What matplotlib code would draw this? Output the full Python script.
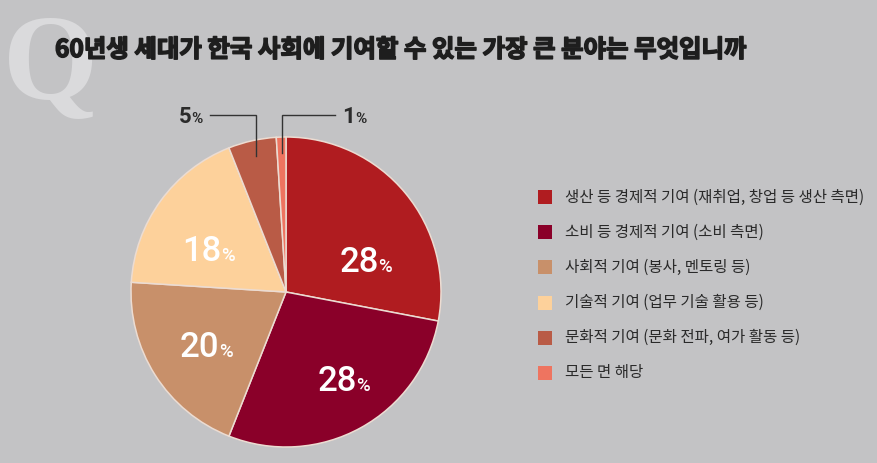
import numpy as np
import matplotlib
matplotlib.use("Agg")
import matplotlib.pyplot as plt
from matplotlib.patches import Rectangle
import matplotlib.patheffects as pe

plt.rcParams['font.family'] = ['Noto Sans CJK KR', 'DejaVu Sans']

# ---- data ----
title = "60년생 세대가 한국 사회에 기여할 수 있는 가장 큰 분야는 무엇입니까"
categories = [
    "생산 등 경제적 기여 (재취업, 창업 등 생산 측면)",
    "소비 등 경제적 기여 (소비 측면)",
    "사회적 기여 (봉사, 멘토링 등)",
    "기술적 기여 (업무 기술 활용 등)",
    "문화적 기여 (문화 전파, 여가 활동 등)",
    "모든 면 해당",
]
values = [28, 28, 20, 18, 5, 1]
colors = ["#b01c20", "#8a0029", "#c8906a", "#fdd19b", "#b95b46", "#ee7460"]

# ---- style / layout ----
W, H = 877, 463
bg = "#c3c3c5"
fig = plt.figure(figsize=(W / 100, H / 100), dpi=100, facecolor=bg)

# big background "Q"
fig.text(3 / W, 1 - 99 / H, "Q", family="Liberation Serif", fontweight="bold",
         fontsize=88, color="#dadadc", ha="left", va="baseline", zorder=0)
fig.text(55 / W, 1 - 50 / H, title, fontsize=17.6, fontweight="bold",
         color="#1e1e1e", ha="left", va="center", zorder=2,
         path_effects=[pe.withStroke(linewidth=1.1, foreground="#1e1e1e")])

cx, cy, r = 286, 292, 155
ax = fig.add_axes([(cx - r) / W, (H - cy - r) / H, 2 * r / W, 2 * r / H])
ax.set_facecolor("none")
wedges, _ = ax.pie(values, colors=colors, startangle=90, counterclock=False,
                   wedgeprops=dict(edgecolor="#ecdcd2", linewidth=1.1))
ax.set_xlim(-1, 1)
ax.set_ylim(-1, 1)
ax.set_aspect("equal")
ax.axis("off")

# inside labels (anchor = boundary between number and %), polar offsets
inside_pos = {0: (0.63, 17.6), 1: (0.74, -51.7), 2: (0.56, 220.0), 3: (0.49, 147.6)}
for i, (rr, ang) in inside_pos.items():
    x, y = rr * np.cos(np.radians(ang)), rr * np.sin(np.radians(ang))
    ax.text(x, y - 0.06, f"{values[i]}", fontsize=25, family="Roboto", fontweight="medium",
            color="white", ha="right", va="baseline")
    ax.text(x - 0.005, y - 0.06, "%", fontsize=13.5, family="Roboto", fontweight="medium",
            color="white", ha="left", va="baseline")

# outside labels with leader lines
cum = np.cumsum([0] + values)
line_y = (cy - 115) / r
outside = {4: (210, "right"), 5: (335, "left")}
for i, (xend_px, side) in outside.items():
    mid = 90 - (cum[i] + cum[i + 1]) / 2 * 3.6
    x0 = 0.9 * np.cos(np.radians(mid))
    y0 = 0.9 * np.sin(np.radians(mid))
    xe = (xend_px - cx) / r
    ax.plot([x0, x0, xe], [y0, line_y, line_y], color="#333333", lw=1.0,
            clip_on=False, solid_joinstyle="miter")
    ty = line_y - 8 / r
    if side == "right":
        tx = xe - 7 / r
        ax.text(tx, ty, "%", fontsize=11, family="Roboto", fontweight="bold",
                color="#2b2b2b", ha="right", va="baseline", clip_on=False)
        ax.text(tx - 11 / r, ty, f"{values[i]}", fontsize=16, family="Roboto",
                fontweight="bold", color="#2b2b2b", ha="right", va="baseline", clip_on=False)
    else:
        tx = xe + 7 / r
        ax.text(tx, ty, f"{values[i]}", fontsize=16, family="Roboto",
                fontweight="bold", color="#2b2b2b", ha="left", va="baseline", clip_on=False)
        ax.text(tx + 13 / r, ty, "%", fontsize=11, family="Roboto", fontweight="bold",
                color="#2b2b2b", ha="left", va="baseline", clip_on=False)

# legend
sq = 14
for k, (lab, w) in enumerate(zip(categories, wedges)):
    yc = 197 + k * 35.2
    fig.add_artist(Rectangle((538 / W, (H - yc - sq / 2) / H), sq / W, sq / H,
                             transform=fig.transFigure, facecolor=w.get_facecolor(),
                             edgecolor="none"))
    fig.text(565 / W, (H - yc) / H, lab, fontsize=11.2, color="#2a2a2a",
             ha="left", va="center")

fig.savefig("out.png", dpi=100, facecolor=bg)
